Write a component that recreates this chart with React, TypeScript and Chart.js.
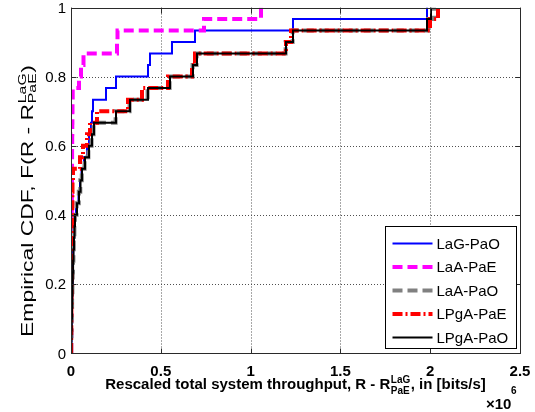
import React, { useEffect, useRef } from "react";
import { Chart, registerables } from "chart.js";

Chart.register(...registerables);

// Sorted samples (units of 10^6 bits/s) behind each empirical CDF (30 samples each)
const lagPaO = [0.0017, 0.0028, 0.0039, 0.005, 0.0061, 0.0072, 0.0089, 0.0106, 0.0122, 0.0145, 0.0178, 0.0223, 0.0278, 0.0418, 0.0501, 0.0585, 0.0724, 0.0891, 0.1002, 0.1114, 0.1169, 0.1225, 0.1949, 0.2506, 0.4287, 0.4399, 0.5624, 0.6904, 1.2361, 1.9822];
const laaPaE = [0.0011, 0.0017, 0.0019, 0.0022, 0.0025, 0.0028, 0.0031, 0.0033, 0.0036, 0.0039, 0.0042, 0.0045, 0.0047, 0.005, 0.0053, 0.0056, 0.0058, 0.0061, 0.0067, 0.0072, 0.0078, 0.0084, 0.0095, 0.0445, 0.0557, 0.0696, 0.2561, 0.2589, 0.7405, 1.058];
const laaPaO = [0.0014, 0.0025, 0.0036, 0.005, 0.0061, 0.0078, 0.0095, 0.0111, 0.0134, 0.0156, 0.0189, 0.0217, 0.0312, 0.0434, 0.0518, 0.0601, 0.0757, 0.0968, 0.1147, 0.1258, 0.2484, 0.3263, 0.4265, 0.549, 0.677, 0.6993, 1.1949, 1.2339, 1.9878, 2.0212];
const lpgaPaE = [0.0006, 0.0011, 0.0017, 0.0022, 0.0028, 0.0033, 0.0039, 0.0045, 0.005, 0.0056, 0.0061, 0.0067, 0.0072, 0.0078, 0.0084, 0.0111, 0.0501, 0.0668, 0.0891, 0.1058, 0.1448, 0.3174, 0.3953, 0.5401, 0.6737, 0.6904, 1.1971, 1.2249, 1.9989, 2.0434];
const lpgaPaO = [0.0017, 0.0028, 0.0039, 0.0056, 0.0067, 0.0084, 0.01, 0.0117, 0.0139, 0.0167, 0.0195, 0.0223, 0.0334, 0.0445, 0.0529, 0.0612, 0.078, 0.1002, 0.1169, 0.1281, 0.2506, 0.3285, 0.4287, 0.5512, 0.6793, 0.7016, 1.1971, 1.2361, 1.9822, 2.0045];

const seriesNames = ["LaG-PaO", "LaA-PaE", "LaA-PaO", "LPgA-PaE", "LPgA-PaO"];
const seriesSamples = [lagPaO, laaPaE, laaPaO, lpgaPaE, lpgaPaO];

const xTicks = [0, 0.5, 1, 1.5, 2, 2.5];
const xTickLabels = ["0", "0.5", "1", "1.5", "2", "2.5"];
const yTicks = [0, 0.2, 0.4, 0.6, 0.8, 1];
const yTickLabels = ["0", "0.2", "0.4", "0.6", "0.8", "1"];

const styles = [
  { color: "#0000ff", width: 2, dash: [] as number[], order: 5 },
  { color: "#ff00ff", width: 4, dash: [10, 5], order: 4 },
  { color: "#808080", width: 4, dash: [10, 5], order: 3 },
  { color: "#ff0000", width: 4, dash: [10, 3, 2, 3], order: 2 },
  { color: "#000000", width: 2, dash: [] as number[], order: 1 },
];

function ecdfPoints(samples: number[]) {
  const n = samples.length;
  const pts = [{ x: samples[0], y: 0 }];
  samples.forEach((s, i) => pts.push({ x: s, y: (i + 1) / n }));
  return pts;
}

type Seg = { text: string } | { sup: string; sub: string };

function measureRich(ctx: CanvasRenderingContext2D, segs: Seg[], mainFont: string, scriptFont: string) {
  return segs.map((s) => {
    if ("text" in s) {
      ctx.font = mainFont;
      return ctx.measureText(s.text).width;
    }
    ctx.font = scriptFont;
    return Math.max(ctx.measureText(s.sup).width, ctx.measureText(s.sub).width) + 1;
  });
}

function drawRich(ctx: CanvasRenderingContext2D, segs: Seg[], cx: number, base: number, mainFont: string, scriptFont: string, supDy: number, subDy: number, targetLen?: number) {
  const widths = measureRich(ctx, segs, mainFont, scriptFont);
  const total = widths.reduce((a, b) => a + b, 0);
  const sx = targetLen ? targetLen / total : 1;
  ctx.save();
  ctx.translate(cx, base);
  ctx.scale(sx, 1);
  let x = -total / 2;
  ctx.textAlign = "left";
  ctx.textBaseline = "alphabetic";
  segs.forEach((s, i) => {
    if ("text" in s) {
      ctx.font = mainFont;
      ctx.fillText(s.text, x, 0);
    } else {
      ctx.font = scriptFont;
      ctx.fillText(s.sup, x + 0.5, supDy);
      ctx.fillText(s.sub, x + 0.5, subDy);
    }
    x += widths[i];
  });
  ctx.restore();
}

const matlabAxes = {
  id: "matlabAxes",
  beforeDatasetsDraw(chart: any) {
    const { ctx, chartArea: ca, scales } = chart;
    const xs = scales.x, ys = scales.y;
    ctx.save();
    ctx.strokeStyle = "#505050";
    ctx.lineWidth = 1;
    ctx.setLineDash([1, 2]);
    xTicks.forEach((t) => {
      const px = Math.round(xs.getPixelForValue(t)) + 0.5;
      ctx.beginPath();
      ctx.moveTo(px, ca.top);
      ctx.lineTo(px, ca.bottom);
      ctx.stroke();
    });
    yTicks.forEach((t) => {
      const py = Math.round(ys.getPixelForValue(t)) + 0.5;
      ctx.beginPath();
      ctx.moveTo(ca.left, py);
      ctx.lineTo(ca.right, py);
      ctx.stroke();
    });
    ctx.restore();
  },
  afterDatasetsDraw(chart: any) {
    const { ctx, chartArea: ca, scales } = chart;
    const xs = scales.x, ys = scales.y;
    ctx.save();
    ctx.setLineDash([]);
    ctx.strokeStyle = "#2a2a2a";
    ctx.lineWidth = 1;
    const L = Math.round(ca.left) + 0.5, R = Math.round(ca.right) + 0.5;
    const T = Math.round(ca.top) + 0.5, B = Math.round(ca.bottom) + 0.5;
    ctx.strokeRect(L, T, R - L, B - T);
    const tl = 5;
    ctx.beginPath();
    xTicks.forEach((t) => {
      const px = Math.round(xs.getPixelForValue(t)) + 0.5;
      ctx.moveTo(px, B); ctx.lineTo(px, B - tl);
      ctx.moveTo(px, T); ctx.lineTo(px, T + tl);
    });
    yTicks.forEach((t) => {
      const py = Math.round(ys.getPixelForValue(t)) + 0.5;
      ctx.moveTo(L, py); ctx.lineTo(L + tl, py);
      ctx.moveTo(R, py); ctx.lineTo(R - tl, py);
    });
    ctx.stroke();

    ctx.fillStyle = "#000";
    // tick labels
    ctx.font = "bold 15px 'Liberation Sans', Arial, sans-serif";
    ctx.textAlign = "center";
    ctx.textBaseline = "alphabetic";
    xTicks.forEach((t, i) => ctx.fillText(xTickLabels[i], xs.getPixelForValue(t), ca.bottom + 23));
    ctx.font = "15px 'Liberation Sans', Arial, sans-serif";
    ctx.textAlign = "right";
    yTicks.forEach((t, i) => ctx.fillText(yTickLabels[i], ca.left - 5, ys.getPixelForValue(t) + 5.5));

    // x exponent
    ctx.font = "bold 15px 'Liberation Sans', Arial, sans-serif";
    ctx.textAlign = "left";
    ctx.fillText("\u00d710", 486, 409);
    ctx.font = "bold 10px 'Liberation Sans', Arial, sans-serif";
    ctx.fillText("6", 511, 394);

    // x title
    drawRich(
      ctx,
      [{ text: "Rescaled total system throughput, R - R" }, { sup: "LaG", sub: "PaE" }, { text: ", in [bits/s]" }],
      (ca.left + ca.right) / 2,
      389,
      "bold 15px 'Liberation Sans', Arial, sans-serif",
      "bold 10px 'Liberation Sans', Arial, sans-serif",
      -6,
      5
    );

    // y title (rotated)
    ctx.save();
    ctx.translate(33, 201);
    ctx.rotate(-Math.PI / 2);
    drawRich(
      ctx,
      [{ text: "Empirical CDF, F(R - R" }, { sup: "LaG", sub: "PaE" }, { text: ")" }],
      0,
      0,
      "16px 'Liberation Sans', Arial, sans-serif",
      "11px 'Liberation Sans', Arial, sans-serif",
      -7,
      3,
      272
    );
    ctx.restore();

    // legend
    const bw = 131, bh = 122;
    const bx = Math.round(ca.right - 4 - bw) + 0.5, by = Math.round(ca.bottom - 5 - bh) + 0.5;
    ctx.fillStyle = "#fff";
    ctx.fillRect(bx, by, bw, bh);
    ctx.strokeStyle = "#000";
    ctx.lineWidth = 1;
    ctx.setLineDash([]);
    ctx.strokeRect(bx, by, bw, bh);
    seriesNames.forEach((name, i) => {
      const st = styles[i];
      const yy = by + 17 + i * 23.5;
      ctx.save();
      ctx.strokeStyle = st.color;
      ctx.lineWidth = st.width;
      ctx.setLineDash(st.dash);
      ctx.beginPath();
      ctx.moveTo(bx + 7, yy);
      ctx.lineTo(bx + 47, yy);
      ctx.stroke();
      ctx.restore();
      ctx.fillStyle = "#000";
      ctx.font = "15px 'Liberation Sans', Arial, sans-serif";
      ctx.textAlign = "left";
      ctx.textBaseline = "middle";
      ctx.fillText(name, bx + 51, yy + 1);
    });
    ctx.restore();
  },
};

export default function App() {
  const ref = useRef<HTMLCanvasElement | null>(null);
  useEffect(() => {
    document.body.style.margin = "0";
    const canvas = ref.current;
    if (!canvas) return;
    const chart = new Chart(canvas, {
      type: "line",
      data: {
        datasets: seriesSamples.map((s, i) => ({
          label: seriesNames[i],
          data: ecdfPoints(s),
          borderColor: styles[i].color,
          backgroundColor: styles[i].color,
          borderWidth: styles[i].width,
          borderDash: styles[i].dash,
          borderCapStyle: "butt",
          pointRadius: 0,
          fill: false,
          stepped: true,
          tension: 0,
          order: styles[i].order,
        })),
      },
      options: {
        animation: false,
        responsive: false,
        maintainAspectRatio: false,
        layout: { padding: { left: 71, right: 15, top: 7.5, bottom: 59 } },
        plugins: { legend: { display: false }, tooltip: { enabled: false } },
        scales: {
          x: { type: "linear", min: 0, max: 2.5, display: false },
          y: { type: "linear", min: 0, max: 1, display: false },
        },
      } as any,
      plugins: [matlabAxes],
    });
    return () => chart.destroy();
  }, []);
  return (
    <div style={{ position: "absolute", left: 0, top: 0, width: 535, height: 412, background: "#fff" }}>
      <canvas ref={ref} width={535} height={412} />
    </div>
  );
}
